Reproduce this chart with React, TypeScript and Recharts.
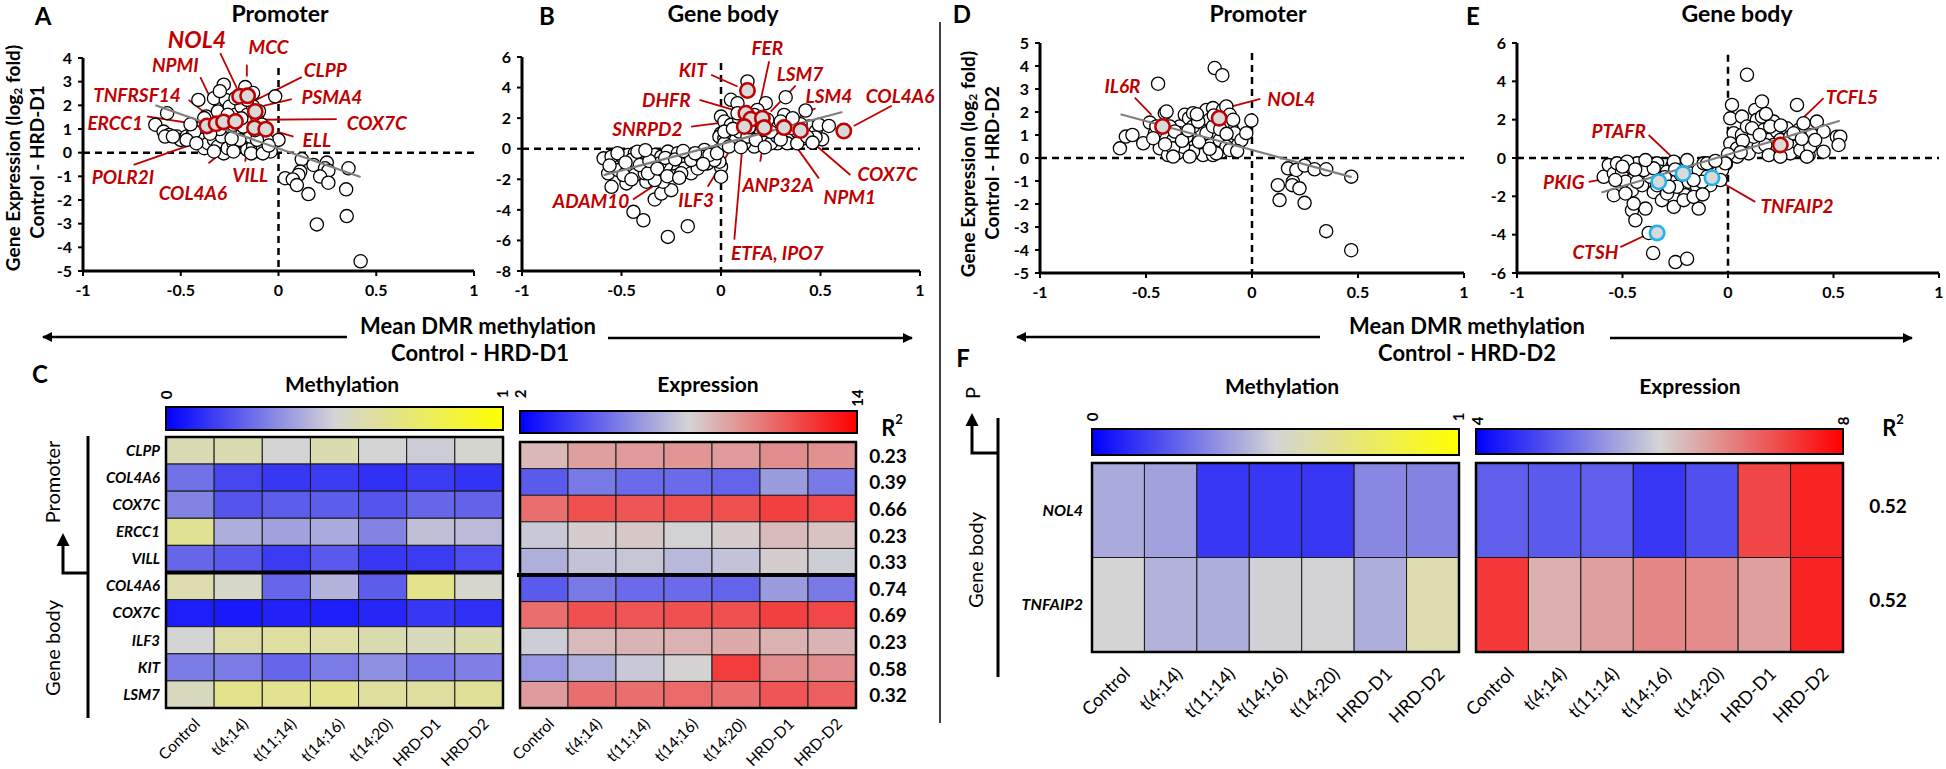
import React from 'react';
import { ScatterChart, Scatter, XAxis, YAxis, ReferenceLine, ReferenceDot, BarChart, Bar, Cell } from 'recharts';

const FONT = "Lato, 'Open Sans', 'DejaVu Sans', sans-serif";
const RED = '#c00000';
const CYAN = '#1fb2ee';

type Pt = [number, number];
type Lab = { t: string; x: number; y: number; fs?: number };
type Seg = [number, number, number, number];

const X_TICKS = [-1, -0.5, 0, 0.5, 1];

// ---------------- Panel A ----------------
const A_POINTS: Pt[] = [
  [-0.017, 2.38], [0, 0.54], [0.119, -0.28], [0.179, -0.52], [0.247, -0.42], [0.238, -0.66], [0.255, -0.76], [0.213, -1.01],
  [0.255, -1.27], [0.111, -0.8], [0.102, -0.94], [0.034, -1.08], [0.073, -1.13], [0.094, -1.37], [0.153, -1.75], [0.358, -0.66],
  [0.346, -1.55], [0.349, -2.68], [0.196, -3.03], [0.42, -4.59],
  [-0.63, 1.18], [-0.57, 1.67], [-0.588, 0.89], [-0.56, 0.75], [-0.58, 0.68], [-0.41, 2.23], [-0.28, 2.87], [-0.17, 2.77],
  [-0.33, 2.3], [-0.27, 2.23], [-0.52, 0.68], [-0.5, 0.54], [-0.47, 0.68], [-0.44, 0.75], [-0.39, 0.61], [-0.38, 0.19],
  [-0.36, 0.4], [-0.33, 0.54], [-0.31, 0.26], [-0.28, -0.03], [-0.26, 0.19], [-0.23, 0.4], [-0.2, 0.26], [-0.18, 0.47],
  [-0.16, 0.12], [-0.13, 0.26], [-0.1, 0.05], [-0.08, 0.19], [-0.04, 0.05], [-0.32, 1.39], [-0.35, 1.1], [-0.37, 1.53],
  [-0.31, 1.74], [-0.25, 1.95], [-0.22, 1.6], [-0.19, 1.95], [-0.16, 1.6], [-0.13, 1.95], [-0.15, 1.25], [-0.11, 1.53],
  [-0.085, 1.18], [-0.06, 0.96], [-0.2, 0.82], [-0.25, 0.89], [-0.29, 0.68], [-0.145, 0.68], [-0.094, 0.75], [-0.06, 0.54],
  [-0.11, 0.54], [-0.23, 1.18], [-0.39, 1.1], [-0.43, 0.89], [-0.38, 1.46], [-0.13, 2.52], [-0.16, 2.23], [-0.2, 0.54],
  [-0.33, 0.05], [-0.23, 0.05], [-0.14, -0.03], [-0.08, -0.03], [-0.47, 0.54], [-0.54, 0.68],
  [-0.42, 0.4], [-0.3, 1.0], [-0.27, 1.3], [-0.18, 1.1], [-0.12, 0.95], [-0.35, 0.8], [-0.24, 0.6], [-0.1, 1.75],
  [-0.3, 2.6], [-0.22, 2.3], [-0.45, 1.2], [-0.05, 0.3], [-0.26, 1.6], [-0.19, 1.45],
];
const A_HI: Pt[] = [[-0.366, 1.13], [-0.319, 1.22], [-0.281, 1.3], [-0.22, 1.32], [-0.199, 2.38], [-0.158, 2.4], [-0.119, 1.74], [-0.123, 1.05], [-0.065, 0.99]];
const A_FIT: Pt[] = [[-0.63, 2.0], [0.42, -1.03]];
const A_LABELS: Lab[] = [
  { t: 'NOL4', x: -0.417, y: 4.81, fs: 23 }, { t: 'MCC', x: -0.051, y: 4.49 }, { t: 'NPMI', x: -0.528, y: 3.72 },
  { t: 'CLPP', x: 0.239, y: 3.5 }, { t: 'PSMA4', x: 0.273, y: 2.38 }, { t: 'TNFRSF14', x: -0.724, y: 2.45 },
  { t: 'ERCC1', x: -0.835, y: 1.29 }, { t: 'COX7C', x: 0.503, y: 1.29 }, { t: 'ELL', x: 0.196, y: 0.54 },
  { t: 'POLR2I', x: -0.796, y: -1.01 }, { t: 'COL4A6', x: -0.438, y: -1.69 }, { t: 'VILL', x: -0.145, y: -0.94 },
];
const A_LEADERS: Seg[] = [
  [-0.298, 4.21, -0.213, 2.73], [-0.162, 3.72, -0.162, 3.22], [-0.4, 3.19, -0.307, 1.6], [0.119, 3.19, -0.148, 2.09],
  [0.068, 2.26, -0.077, 1.98], [-0.46, 2.23, -0.341, 1.46], [-0.673, 1.53, -0.4, 1.18], [0.298, 1.42, -0.094, 1.39],
  [0.077, 0.68, -0.009, 0.89], [-0.741, -0.52, -0.23, 0.96], [-0.358, -0.45, -0.145, 0.96], [-0.17, -0.38, -0.153, 0.89],
];

// ---------------- Panel B ----------------
const B_POINTS: Pt[] = [
  [-0.59, -0.63], [-0.567, -1.61], [-0.55, -2.49], [-0.475, -2.27], [-0.44, -4.13], [-0.39, -4.68], [-0.333, -3.32], [-0.3, -2.93],
  [-0.25, -2.71], [-0.267, -5.77], [-0.167, -5.07], [-0.533, -0.96], [-0.49, -0.63], [-0.467, -0.41], [-0.433, -0.3], [-0.4, -0.52],
  [-0.367, -0.35], [-0.333, -0.41], [-0.3, -0.52], [-0.267, -0.19], [-0.217, -0.3], [-0.167, -0.52], [-0.117, -0.74], [-0.083, -0.08],
  [-0.05, -0.63], [0, -1.18], [0, -1.83], [-0.008, -0.85], [-0.517, -1.4], [-0.467, -1.18], [-0.417, -1.4], [-0.375, -2.16],
  [-0.35, -1.18], [-0.317, -1.61], [-0.292, -2.16], [-0.25, -1.4], [-0.208, -0.96], [-0.183, -1.29], [-0.15, -1.61], [-0.117, -1.29],
  [-0.067, -0.96], [-0.033, -0.74], [-0.392, -0.96], [-0.433, -1.72], [-0.49, -1.72], [-0.242, -0.96], [-0.333, -2.05], [-0.383, -1.61],
  [-0.275, -1.07], [-0.308, -0.96], [-0.2, -1.61], [-0.15, -0.74], [-0.1, -0.52], [-0.058, -0.41], [-0.45, -0.74], [-0.408, -1.07],
  [-0.55, -0.52], [-0.367, -1.61], [-0.52, -0.3], [-0.48, -0.9], [-0.42, -0.2], [-0.36, -0.8], [-0.32, -1.3], [-0.28, -0.6],
  [-0.23, -0.7], [-0.19, -0.15], [-0.13, -0.3], [-0.09, -1.0], [-0.27, -1.8], [-0.45, -2.0], [-0.21, -1.9], [-0.02, -0.3],
  [-0.56, -1.1], [-0.38, -0.1],
  [0.133, 4.4], [0.325, 3.37], [0.225, 2.98], [0.425, 2.5], [0.05, 3.2], [0.083, 2.98], [0, 2.1], [0.017, 1.78], [0, 1.0],
  [-0.008, 0.79], [0.017, 0.68], [0.05, 0.79], [0.05, 1.56], [0.092, 1.89], [0.117, 1.0], [0.167, 1.67], [0.183, 2.54], [0.2, 1.0],
  [0.233, 0.57], [0.267, 1.45], [0.3, 1.0], [0.317, 2.21], [0.342, 1.67], [0.358, 0.68], [0.383, 1.12], [0.417, 0.68], [0.442, 1.45],
  [0.475, 1.12], [0.492, 1.56], [0.508, 0.61], [0.542, 1.49], [0.475, 0.74], [0.283, 0.35], [0.25, 0.35], [0.167, 0.14], [0.117, 0.35],
  [0.075, 0.57], [0.017, 0.35], [0.092, 1.12], [0.133, 0.79], [0.175, 0.57], [0.217, 1.23], [0.283, 0.79], [0.333, 0.35], [0.383, 0.35],
  [0.433, 0.79], [0.083, 2.32], [0.167, 2.21], [0.233, 1.89], [0.3, 1.78], [0.358, 1.34], [0.017, 1.12], [0.04, 0.14],
  [0.06, 1.3], [0.14, 1.4], [0.19, 1.9], [0.25, 1.1], [0.4, 1.6], [0.46, 0.4], [0.36, 2.0], [0.1, 0.1], [0.22, 0.1], [0.3, 0.6],
];
const B_HI: Pt[] = [[0.133, 3.81], [0.125, 2.32], [0.15, 1.93], [0.208, 2.0], [0.217, 1.38], [0.117, 1.45], [0.317, 1.38], [0.4, 1.19], [0.617, 1.16]];
const B_FIT: Pt[] = [[-0.59, -1.73], [0.61, 2.4]];
const B_LABELS: Lab[] = [
  { t: 'KIT', x: -0.142, y: 5.17 }, { t: 'FER', x: 0.233, y: 6.59 }, { t: 'LSM7', x: 0.397, y: 4.95 },
  { t: 'LSM4', x: 0.542, y: 3.46 }, { t: 'COL4A6', x: 0.9, y: 3.46 }, { t: 'DHFR', x: -0.275, y: 3.24 },
  { t: 'SNRPD2', x: -0.37, y: 1.34 }, { t: 'ADAM10', x: -0.653, y: -3.37 }, { t: 'ILF3', x: -0.125, y: -3.32 },
  { t: 'ETFA, IPO7', x: 0.283, y: -6.76 }, { t: 'ANP32A', x: 0.287, y: -2.32 }, { t: 'COX7C', x: 0.837, y: -1.61 },
  { t: 'NPM1', x: 0.647, y: -3.15 },
];
const B_LEADERS: Seg[] = [
  [-0.05, 4.84, 0.083, 4.07], [0.242, 5.72, 0.183, 2.21], [0.375, 4.12, 0.25, 2.43], [0.475, 2.65, 0.317, 1.56],
  [0.858, 2.81, 0.667, 1.49], [-0.108, 3.2, 0.092, 2.43], [-0.15, 1.45, 0.117, 1.89], [-0.442, -3.32, 0.1, 1.34],
  [-0.067, -2.49, 0.092, 0.9], [0.067, -5.95, 0.113, 1.01], [0.197, -0.85, 0.22, 1.01], [0.65, -1.72, 0.417, 0.9],
  [0.492, -1.94, 0.342, 0.79],
];

// ---------------- Panel D ----------------
const D_POINTS: Pt[] = [
  [0.122, -1.18], [0.13, -1.83], [0.17, -0.45], [0.193, -1.03], [0.19, -1.18], [0.209, -0.52], [0.224, -1.32], [0.248, -0.33],
  [0.248, -1.95], [0.295, -0.49], [0.35, -0.49], [0.35, -3.18], [0.468, -0.81], [0.468, -4.01],
  [-0.443, 3.23], [-0.176, 3.91], [-0.14, 3.6], [-0.623, 0.42], [-0.595, 0.93], [-0.564, 1.0], [-0.513, 0.64], [-0.482, 1.54],
  [-0.458, 1.08], [-0.435, 0.42], [-0.411, 1.95], [-0.403, 2.02], [-0.396, 0.13], [-0.372, 0.78], [-0.353, 0.2], [-0.341, 1.37],
  [-0.317, 1.88], [-0.297, 1.73], [-0.278, 1.95], [-0.294, 0.49], [-0.262, 0.93], [-0.239, 1.22], [-0.223, 1.73], [-0.215, 2.09],
  [-0.2, 1.66], [-0.184, 2.17], [-0.196, 0.57], [-0.16, 1.08], [-0.137, 2.09], [-0.121, 2.24], [-0.105, 1.88], [-0.097, 1.29],
  [-0.082, 1.08], [-0.066, 0.57], [-0.05, 0.78], [-0.027, 1.08], [-0.003, 1.63], [-0.231, 0.13], [-0.184, 0.13], [-0.144, 0.28],
  [-0.278, 0.28], [-0.325, 0.49], [-0.372, 0.42], [-0.309, 0.93], [-0.278, 1.37], [-0.215, 1.08], [-0.152, 0.78], [-0.121, 0.49],
  [-0.341, 1.08], [-0.388, 1.37], [-0.451, 1.37], [-0.466, 0.86], [-0.364, 1.15], [-0.254, 1.58], [-0.137, 1.51], [-0.089, 1.66],
  [-0.184, 1.37], [-0.105, 0.35], [-0.168, 0.2], [-0.294, 0.06], [-0.372, 0.06],
  [-0.25, 0.7], [-0.2, 0.4], [-0.33, 0.75], [-0.41, 0.6], [-0.15, 1.25], [-0.07, 0.3], [-0.26, 1.9], [-0.18, 1.85], [-0.12, 1.05], [-0.3, 1.2],
];
const D_HI: Pt[] = [[-0.422, 1.37], [-0.155, 1.73]];
const D_FIT: Pt[] = [[-0.62, 1.9], [0.47, -0.83]];
const D_LABELS: Lab[] = [{ t: 'IL6R', x: -0.611, y: 3.14 }, { t: 'NOL4', x: 0.185, y: 2.57 }];
const D_LEADERS: Seg[] = [[-0.553, 2.63, -0.474, 1.88], [0.039, 2.57, -0.108, 2.21]];

// ---------------- Panel E ----------------
const E_POINTS: Pt[] = [
  [0.09, 4.34], [0.019, 2.77], [0.011, 2.07], [0.027, 1.29], [0.011, 0.76], [0.043, 0.5], [0.066, 2.16], [0.066, 1.2], [0.09, 1.64],
  [0.106, 0.76], [0.129, 2.51], [0.137, 1.99], [0.161, 2.95], [0.161, 2.16], [0.169, 1.46], [0.193, 0.94], [0.2, 0.33], [0.216, 1.9],
  [0.232, 1.38], [0.248, 0.94], [0.264, 0.33], [0.279, 1.55], [0.295, 1.11], [0.311, 0.59], [0.327, 2.77], [0.335, 1.46], [0.358, 1.81],
  [0.366, 0.59], [0.382, 0.15], [0.398, 1.2], [0.421, 1.9], [0.453, 1.38], [0.453, 0.33], [0.516, 1.11], [0.532, 1.11], [0.524, 0.68],
  [0.098, 0.24], [0.145, 0.59], [0.216, 0.68], [0.295, 0.24], [0.343, 0.42], [0.39, 0.59], [0.122, 1.11], [0.177, 0.68], [0.279, 0.76],
  [0.114, 1.55], [0.2, 1.64], [0.311, 1.29], [0.413, 0.94], [0.043, 0.07], [0.193, 0.15], [0.248, 0.07], [0.374, 0.07],
  [0.07, 0.9], [0.15, 1.2], [0.25, 1.7], [0.35, 1.0], [0.18, 2.3], [0.06, 0.3], [0.0, 0.2], [-0.01, -0.3],
  [-0.541, -1.94], [-0.455, -2.73], [-0.439, -3.25], [-0.391, -2.64], [-0.447, -2.38], [-0.257, -2.55], [-0.139, -2.64], [-0.202, -1.94],
  [-0.376, -3.91], [-0.355, -4.96], [-0.249, -5.43], [-0.194, -5.26], [-0.589, -0.98], [-0.565, -0.37], [-0.541, -0.81], [-0.526, -0.28],
  [-0.502, -0.72], [-0.486, -1.24], [-0.463, -0.46], [-0.455, -1.68], [-0.431, -0.28], [-0.415, -0.81], [-0.407, -1.42], [-0.384, -0.37],
  [-0.368, -0.98], [-0.352, -1.77], [-0.336, -0.28], [-0.32, -0.72], [-0.313, -2.2], [-0.289, -1.85], [-0.273, -1.15], [-0.265, -0.46],
  [-0.242, -1.5], [-0.226, -0.81], [-0.202, -0.28], [-0.186, -1.24], [-0.178, -0.81], [-0.147, -1.5], [-0.139, -0.63], [-0.115, -0.28],
  [-0.099, -0.98], [-0.084, -1.42], [-0.068, -0.46], [-0.052, -0.81], [-0.028, -0.63], [-0.013, -0.28], [-0.399, -0.63], [-0.289, -0.72],
  [-0.21, -2.2], [-0.163, -2.03], [-0.123, -1.24], [-0.486, -1.85], [-0.431, -1.24], [-0.352, -0.54], [-0.257, -0.19], [-0.194, -0.11],
  [-0.391, -0.11], [-0.478, -0.19], [-0.534, -1.15], [-0.336, -1.42], [-0.163, -1.15], [-0.099, -0.28], [-0.036, -1.15],
  [-0.3, -1.0], [-0.25, -0.6], [-0.44, -0.6], [-0.12, -1.9], [-0.28, -1.5], [-0.5, -0.45], [-0.06, -0.15],
];
const E_HI_RED: Pt[] = [[0.248, 0.68]];
const E_HI_BLUE: Pt[] = [[-0.213, -0.81], [-0.328, -1.24], [-0.076, -1.03], [-0.336, -3.91]];
const E_FIT: Pt[] = [[-0.6, -1.8], [0.53, 1.94]];
const E_LABELS: Lab[] = [
  { t: 'TCFL5', x: 0.587, y: 3.21 }, { t: 'PTAFR', x: -0.518, y: 1.46 }, { t: 'PKIG', x: -0.778, y: -1.24 },
  { t: 'TNFAIP2', x: 0.327, y: -2.46 }, { t: 'CTSH', x: -0.628, y: -4.86 },
];
const E_LEADERS: Seg[] = [
  [0.453, 3.12, 0.272, 1.2], [-0.376, 1.2, -0.234, -0.28], [-0.66, -1.24, -0.376, -0.67], [0.129, -2.29, -0.036, -1.24],
  [-0.51, -4.65, -0.376, -3.95],
];

// ---------------- Heatmaps ----------------
const COLS = ['Control', 't(4;14)', 't(11;14)', 't(14;16)', 't(14;20)', 'HRD-D1', 'HRD-D2'];
const C_ROWS = ['CLPP', 'COL4A6', 'COX7C', 'ERCC1', 'VILL', 'COL4A6', 'COX7C', 'ILF3', 'KIT', 'LSM7'];
const C_METH = [
  [0.575, 0.58, 0.5, 0.58, 0.5, 0.48, 0.51],
  [0.27, 0.165, 0.13, 0.14, 0.11, 0.14, 0.12],
  [0.31, 0.2, 0.22, 0.22, 0.2, 0.24, 0.23],
  [0.65, 0.41, 0.38, 0.4, 0.31, 0.45, 0.44],
  [0.24, 0.21, 0.14, 0.21, 0.13, 0.14, 0.18],
  [0.59, 0.53, 0.24, 0.42, 0.22, 0.67, 0.52],
  [0.07, 0.06, 0.08, 0.07, 0.09, 0.13, 0.11],
  [0.5, 0.6, 0.62, 0.61, 0.58, 0.56, 0.58],
  [0.29, 0.29, 0.24, 0.29, 0.34, 0.28, 0.3],
  [0.55, 0.67, 0.66, 0.67, 0.63, 0.62, 0.64],
];
const C_EXPR = [
  [8.8, 9.5, 9.6, 9.75, 9.6, 10.0, 9.9],
  [4.55, 5.4, 5.0, 5.0, 4.8, 6.4, 5.4],
  [10.9, 11.7, 11.6, 11.7, 11.7, 12.2, 12.0],
  [7.66, 8.2, 8.35, 7.95, 8.2, 8.75, 8.5],
  [6.95, 7.5, 7.6, 7.2, 7.5, 8.2, 7.8],
  [4.55, 5.4, 5.0, 5.0, 4.8, 6.4, 5.4],
  [10.9, 11.7, 11.6, 11.7, 11.7, 12.2, 12.0],
  [7.8, 8.75, 8.9, 9.0, 9.2, 9.0, 8.9],
  [6.25, 6.95, 7.66, 8.05, 12.3, 10.0, 10.0],
  [9.6, 10.9, 10.9, 11.0, 10.9, 11.6, 11.3],
];
const C_R2 = ['0.23', '0.39', '0.66', '0.23', '0.33', '0.74', '0.69', '0.23', '0.58', '0.32'];
const F_ROWS = ['NOL4', 'TNFAIP2'];
const F_METH = [
  [0.4, 0.38, 0.13, 0.13, 0.13, 0.32, 0.31],
  [0.5, 0.42, 0.41, 0.49, 0.495, 0.41, 0.59],
];
const F_EXPR = [
  [4.9, 4.85, 4.9, 4.52, 4.75, 7.34, 7.67],
  [7.48, 6.35, 6.5, 6.73, 6.7, 6.5, 7.67],
];
const F_R2 = ['0.52', '0.52'];

type RGB = [number, number, number];
type Stop = [number, RGB];
const BLUE: RGB = [0, 0, 255];
const GRAY: RGB = [212, 212, 212];
const METH_STOPS: Stop[] = [[0, BLUE], [0.5, GRAY], [1, [255, 255, 0]]];
const C_EXPR_STOPS: Stop[] = [[2, BLUE], [8, GRAY], [14, [255, 0, 0]]];
const F_EXPR_STOPS: Stop[] = [[4, BLUE], [6, GRAY], [8, [255, 0, 0]]];

function makeColor(stops: Stop[]) {
  return (v: number) => {
    const lo = stops[0][0], hi = stops[stops.length - 1][0];
    const x = Math.max(lo, Math.min(hi, v));
    for (let i = 0; i < stops.length - 1; i++) {
      const [a, ca] = stops[i];
      const [b, cb] = stops[i + 1];
      if (x <= b) {
        const t = (x - a) / (b - a);
        const c = ca.map((q, k) => Math.round(q + (cb[k] - q) * t));
        return `rgb(${c[0]},${c[1]},${c[2]})`;
      }
    }
    const c = stops[stops.length - 1][1];
    return `rgb(${c[0]},${c[1]},${c[2]})`;
  };
}

const toObj = (a: Pt[]) => a.map(([x, y]) => ({ x, y }));
const circleShape = (p: any) => <circle cx={p.cx} cy={p.cy} r={6.6} fill="#fff" stroke="#000" strokeWidth={1.3} />;
const hiShape = (c: string) => (p: any) => <circle cx={p.cx} cy={p.cy} r={7.2} fill="#d9d9d9" stroke={c} strokeWidth={2.6} />;
const noShape = () => <g />;

const axisTick = { fill: '#000', fontSize: 16, fontWeight: 700, fontFamily: FONT };

function ScatterPanel(p: any) {
  return (
    <div style={{ position: 'absolute', left: p.left, top: p.top }}>
      <ScatterChart width={p.width} height={p.height} margin={p.margin}>
        <XAxis type="number" dataKey="x" domain={[-1, 1]} ticks={X_TICKS} interval={0} height={22}
          axisLine={{ stroke: '#000', strokeWidth: 3 }} tickLine={{ stroke: '#000', strokeWidth: 2 }} tickSize={5} tickMargin={9} tick={axisTick} />
        <YAxis type="number" dataKey="y" domain={p.yDomain} ticks={p.yTicks} interval={0} width={p.yWidth}
          axisLine={{ stroke: '#000', strokeWidth: 3 }} tickLine={{ stroke: '#000', strokeWidth: 2 }} tickSize={5} tickMargin={6} tick={axisTick} />
        <ReferenceLine segment={[{ x: -1, y: 0 }, { x: 1, y: 0 }]} stroke="#000" strokeWidth={2.5} strokeDasharray="7 5" />
        <ReferenceLine segment={[{ x: 0, y: p.dashTop }, { x: 0, y: p.yDomain[0] }]} stroke="#000" strokeWidth={2.5} strokeDasharray="7 5" />
        <Scatter data={toObj(p.points)} shape={circleShape} isAnimationActive={false} />
        <Scatter data={toObj(p.fit)} line={{ stroke: '#7f7f7f', strokeWidth: 2.2 }} shape={noShape} isAnimationActive={false} />
        {p.leaders.map((s: Seg, i: number) => (
          <ReferenceLine key={'l' + i} segment={[{ x: s[0], y: s[1] }, { x: s[2], y: s[3] }]} stroke={RED} strokeWidth={1.8} ifOverflow="visible" />
        ))}
        <Scatter data={toObj(p.hiRed)} shape={hiShape(RED)} isAnimationActive={false} />
        {p.hiBlue && p.hiBlue.length ? <Scatter data={toObj(p.hiBlue)} shape={hiShape(CYAN)} isAnimationActive={false} /> : null}
        {p.labels.map((l: Lab, i: number) => (
          <ReferenceDot key={'t' + i} x={l.x} y={l.y} r={1} ifOverflow="visible"
            shape={(sp: any) => (
              <text x={sp.cx} y={sp.cy} textAnchor="middle" dominantBaseline="central" fill={RED}
                fontSize={l.fs || 19} fontWeight={700} fontStyle="italic" fontFamily={FONT}>{l.t}</text>
            )} />
        ))}
      </ScatterChart>
    </div>
  );
}

function Heatmap(p: any) {
  const color = makeColor(p.stops);
  const data = p.rows.map((r: string, i: number) => {
    const o: any = { k: r + '|' + i };
    COLS.forEach((_, j) => { o['c' + j] = 1; });
    return o;
  });
  const colTick = (tp: any) => {
    const ex = tp.x + p.colDx;
    const ey = tp.y + p.colDy;
    return (
      <text x={ex} y={ey} transform={`rotate(-45 ${ex} ${ey})`} textAnchor="end" fontSize={p.colFont}
        fontFamily={FONT} fill="#000">{COLS[Math.floor(tp.payload.value)]}</text>
    );
  };
  return (
    <div style={{ position: 'absolute', left: p.left, top: p.top }}>
      <BarChart layout="vertical" width={p.width} height={p.height} data={data} margin={p.margin} barCategoryGap={0} barGap={0}>
        <XAxis type="number" domain={[0, COLS.length]} ticks={COLS.map((_, j) => j + 0.5)} interval={0}
          axisLine={false} tickLine={false} tickSize={0} tickMargin={0} height={p.xHeight} tick={colTick} />
        <YAxis type="category" dataKey="k" hide={!p.showY} width={p.yWidth} axisLine={false} tickLine={false} tickSize={0}
          tickMargin={p.yTickMargin} interval={0} tickFormatter={(v: string) => String(v).split('|')[0]}
          tick={{ fill: '#000', fontSize: p.rowFont, fontWeight: 700, fontStyle: 'italic', fontFamily: FONT }} />
        {COLS.map((_, j) => (
          <Bar key={j} dataKey={'c' + j} stackId="s" isAnimationActive={false}>
            {p.values.map((row: number[], i: number) => (
              <Cell key={i} fill={color(row[j])} stroke="#1a1a1a" strokeWidth={1} />
            ))}
          </Bar>
        ))}
      </BarChart>
    </div>
  );
}

function T(props: any) {
  const { x, y, size = 20, weight = 700, anchor = 'middle', rotate = 0, italic = false, fill = '#000', children } = props;
  return (
    <text x={x} y={y} fontSize={size} fontWeight={weight} textAnchor={anchor} dominantBaseline="central"
      fontStyle={italic ? 'italic' : 'normal'} fill={fill} fontFamily={FONT}
      transform={rotate ? `rotate(${rotate} ${x} ${y})` : undefined}>{children}</text>
  );
}

function Gradient({ id, stops }: { id: string; stops: Stop[] }) {
  const lo = stops[0][0], hi = stops[stops.length - 1][0];
  return (
    <linearGradient id={id} x1="0" y1="0" x2="1" y2="0">
      {stops.map(([v, c], i) => (
        <stop key={i} offset={`${((v - lo) / (hi - lo)) * 100}%`} stopColor={`rgb(${c[0]},${c[1]},${c[2]})`} />
      ))}
    </linearGradient>
  );
}

// heatmap grid rectangles (layout)
const G_CM = { l: 166, t: 437, r: 503, b: 708 };
const G_CE = { l: 520, t: 442, r: 856, b: 708 };
const G_FM = { l: 1092, t: 463, r: 1459, b: 652 };
const G_FE = { l: 1476, t: 463, r: 1843, b: 652 };

function Overlay() {
  const rowH_CE = (G_CE.b - G_CE.t) / C_ROWS.length;
  const rowH_CM = (G_CM.b - G_CM.t) / C_ROWS.length;
  const rowH_F = (G_FE.b - G_FE.t) / F_ROWS.length;
  const ytitle = (x1: number, y1: number, x2: number, y2: number, second: string) => (
    <g>
      <text x={x1} y={y1} fontSize={19} fontWeight={700} textAnchor="middle" dominantBaseline="central" fontFamily={FONT}
        transform={`rotate(-90 ${x1} ${y1})`}>Gene Expression (log<tspan fontSize={12} dy={5}>2</tspan><tspan dy={-5}> fold)</tspan></text>
      <T x={x2} y={y2} size={19} rotate={-90}>{second}</T>
    </g>
  );
  return (
    <svg width={1946} height={769} style={{ position: 'absolute', left: 0, top: 0, pointerEvents: 'none' }}>
      <defs>
        <marker id="ah" viewBox="0 0 10 10" refX="9" refY="5" markerWidth="12" markerHeight="10" markerUnits="userSpaceOnUse" orient="auto">
          <path d="M0,0 L10,5 L0,10 z" fill="#000" />
        </marker>
        <Gradient id="gm" stops={METH_STOPS} />
        <Gradient id="gce" stops={C_EXPR_STOPS} />
        <Gradient id="gfe" stops={F_EXPR_STOPS} />
      </defs>
      {/* panel letters */}
      <T x={43} y={15} size={24}>A</T>
      <T x={547} y={15} size={24}>B</T>
      <T x={40} y={373} size={24}>C</T>
      <T x={962} y={13} size={24}>D</T>
      <T x={1473} y={15} size={24}>E</T>
      <T x={963} y={357} size={24}>F</T>
      {/* titles */}
      <T x={280} y={13} size={23}>Promoter</T>
      <T x={723} y={13} size={23}>Gene body</T>
      <T x={1258} y={13} size={23}>Promoter</T>
      <T x={1737} y={13} size={23}>Gene body</T>
      <T x={342} y={383} size={21}>Methylation</T>
      <T x={708} y={383} size={21}>Expression</T>
      <T x={1282} y={385} size={21}>Methylation</T>
      <T x={1690} y={385} size={21}>Expression</T>
      {/* y titles */}
      {ytitle(12, 158, 36, 162, 'Control - HRD-D1')}
      {ytitle(967, 164, 991, 163, 'Control - HRD-D2')}
      {/* x titles */}
      <T x={478} y={325} size={22}>Mean DMR methylation</T>
      <T x={480} y={352} size={22}>Control - HRD-D1</T>
      <T x={1467} y={325} size={22}>Mean DMR methylation</T>
      <T x={1467} y={352} size={22}>Control - HRD-D2</T>
      {/* arrows */}
      <line x1={347} y1={337} x2={43} y2={337} stroke="#000" strokeWidth={2.5} markerEnd="url(#ah)" />
      <line x1={608} y1={338} x2={912} y2={338} stroke="#000" strokeWidth={2.5} markerEnd="url(#ah)" />
      <line x1={1320} y1={337} x2={1017} y2={337} stroke="#000" strokeWidth={2.5} markerEnd="url(#ah)" />
      <line x1={1610} y1={338} x2={1912} y2={338} stroke="#000" strokeWidth={2.5} markerEnd="url(#ah)" />
      {/* divider */}
      <line x1={940} y1={22} x2={940} y2={723} stroke="#000" strokeWidth={1.5} />
      {/* C side decoration */}
      <line x1={88} y1={436} x2={88} y2={718} stroke="#000" strokeWidth={3} />
      <path d="M88,573 H63 V545" fill="none" stroke="#000" strokeWidth={3} />
      <polygon points="63,533 56.5,546 69.5,546" fill="#000" />
      <T x={52} y={482} size={20} weight={400} rotate={-90}>Promoter</T>
      <T x={52} y={648} size={20} weight={400} rotate={-90}>Gene body</T>
      {/* F side decoration */}
      <line x1={998} y1={418} x2={998} y2={677} stroke="#000" strokeWidth={3} />
      <path d="M998,453 H972 V425" fill="none" stroke="#000" strokeWidth={3} />
      <polygon points="972,413 965.5,426 978.5,426" fill="#000" />
      <T x={972} y={393} size={20} weight={400} rotate={-90}>P</T>
      <T x={975} y={560} size={20} weight={400} rotate={-90}>Gene body</T>
      {/* colorbars */}
      <rect x={166} y={407} width={337} height={23} fill="url(#gm)" stroke="#000" strokeWidth={2} />
      <rect x={520} y={411} width={337} height={22} fill="url(#gce)" stroke="#000" strokeWidth={2} />
      <rect x={1092} y={429} width={367} height={26} fill="url(#gm)" stroke="#000" strokeWidth={2} />
      <rect x={1476} y={429} width={367} height={25} fill="url(#gfe)" stroke="#000" strokeWidth={2} />
      <T x={166} y={395} size={15} rotate={-90}>0</T>
      <T x={502} y={394} size={15} rotate={-90}>1</T>
      <T x={520} y={394} size={15} rotate={-90}>2</T>
      <T x={857} y={398} size={15} rotate={-90}>14</T>
      <T x={1092} y={417} size={15} rotate={-90}>0</T>
      <T x={1458} y={417} size={15} rotate={-90}>1</T>
      <T x={1477} y={421} size={15} rotate={-90}>4</T>
      <T x={1843} y={421} size={15} rotate={-90}>8</T>
      {/* heatmap borders */}
      {[G_CM, G_CE, G_FM, G_FE].map((g, i) => (
        <rect key={i} x={g.l} y={g.t} width={g.r - g.l} height={g.b - g.t} fill="none" stroke="#000" strokeWidth={2.5} />
      ))}
      <line x1={G_CM.l} y1={G_CM.t + 5 * rowH_CM} x2={G_CM.r} y2={G_CM.t + 5 * rowH_CM} stroke="#000" strokeWidth={4} />
      <line x1={G_CE.l - 3} y1={G_CE.t + 5 * rowH_CE} x2={G_CE.r} y2={G_CE.t + 5 * rowH_CE} stroke="#000" strokeWidth={4} />
      {/* R2 */}
      <text x={892} y={427} fontSize={22} fontWeight={700} textAnchor="middle" dominantBaseline="central" fontFamily={FONT}>R<tspan fontSize={13} dy={-8}>2</tspan></text>
      <text x={1893} y={427} fontSize={22} fontWeight={700} textAnchor="middle" dominantBaseline="central" fontFamily={FONT}>R<tspan fontSize={13} dy={-8}>2</tspan></text>
      {C_R2.map((r, i) => <T key={'cr' + i} x={888} y={G_CE.t + (i + 0.5) * rowH_CE} size={19}>{r}</T>)}
      {F_R2.map((r, i) => <T key={'fr' + i} x={1888} y={G_FE.t + (i + 0.5) * rowH_F - 5} size={19}>{r}</T>)}
    </svg>
  );
}

export default function App() {
  return (
    <div style={{ position: 'absolute', left: 0, top: 0, width: 1946, height: 769, background: '#fff', overflow: 'hidden', fontFamily: FONT }}>
      <ScatterPanel left={0} top={0} width={490} height={310} margin={{ top: 58, right: 16, bottom: 17, left: 43 }} yWidth={40}
        yDomain={[-5, 4]} yTicks={[-5, -4, -3, -2, -1, 0, 1, 2, 3, 4]} dashTop={3.58}
        points={A_POINTS} fit={A_FIT} hiRed={A_HI} hiBlue={[]} labels={A_LABELS} leaders={A_LEADERS} />
      <ScatterPanel left={490} top={0} width={450} height={310} margin={{ top: 57, right: 20, bottom: 17, left: 2 }} yWidth={30}
        yDomain={[-8, 6]} yTicks={[-8, -6, -4, -2, 0, 2, 4, 6]} dashTop={5.6}
        points={B_POINTS} fit={B_FIT} hiRed={B_HI} hiBlue={[]} labels={B_LABELS} leaders={B_LEADERS} />
      <ScatterPanel left={940} top={0} width={540} height={310} margin={{ top: 43, right: 16, bottom: 15, left: 60 }} yWidth={40}
        yDomain={[-5, 5]} yTicks={[-5, -4, -3, -2, -1, 0, 1, 2, 3, 4, 5]} dashTop={4.56}
        points={D_POINTS} fit={D_FIT} hiRed={D_HI} hiBlue={[]} labels={D_LABELS} leaders={D_LEADERS} />
      <ScatterPanel left={1480} top={0} width={466} height={310} margin={{ top: 43, right: 7, bottom: 15, left: 7 }} yWidth={30}
        yDomain={[-6, 6]} yTicks={[-6, -4, -2, 0, 2, 4, 6]} dashTop={5.39}
        points={E_POINTS} fit={E_FIT} hiRed={E_HI_RED} hiBlue={E_HI_BLUE} labels={E_LABELS} leaders={E_LEADERS} />

      <Heatmap left={G_CM.l - 80} top={G_CM.t - 10} width={G_CM.r - (G_CM.l - 80) + 10} height={10 + (G_CM.b - G_CM.t) + 61}
        margin={{ top: 10, right: 10, bottom: 1, left: 0 }} yWidth={80} showY yTickMargin={6} rowFont={15} colFont={15.5}
        colDx={11} colDy={17} xHeight={60} rows={C_ROWS} values={C_METH} stops={METH_STOPS} />
      <Heatmap left={G_CE.l - 50} top={G_CE.t - 10} width={G_CE.r - (G_CE.l - 50) + 10} height={10 + (G_CE.b - G_CE.t) + 61}
        margin={{ top: 10, right: 10, bottom: 1, left: 50 }} yWidth={0} showY={false} yTickMargin={0} rowFont={15} colFont={15.5}
        colDx={11} colDy={17} xHeight={60} rows={C_ROWS} values={C_EXPR} stops={C_EXPR_STOPS} />
      <Heatmap left={G_FM.l - 90} top={G_FM.t - 10} width={G_FM.r - (G_FM.l - 90) + 10} height={10 + (G_FM.b - G_FM.t) + 80}
        margin={{ top: 10, right: 10, bottom: 0, left: 0 }} yWidth={90} showY yTickMargin={9} rowFont={16} colFont={18}
        colDx={13} colDy={23} xHeight={80} rows={F_ROWS} values={F_METH} stops={METH_STOPS} />
      <Heatmap left={G_FE.l - 50} top={G_FE.t - 10} width={G_FE.r - (G_FE.l - 50) + 10} height={10 + (G_FE.b - G_FE.t) + 80}
        margin={{ top: 10, right: 10, bottom: 0, left: 50 }} yWidth={0} showY={false} yTickMargin={0} rowFont={16} colFont={18}
        colDx={13} colDy={23} xHeight={80} rows={F_ROWS} values={F_EXPR} stops={F_EXPR_STOPS} />
      <Overlay />
    </div>
  );
}
